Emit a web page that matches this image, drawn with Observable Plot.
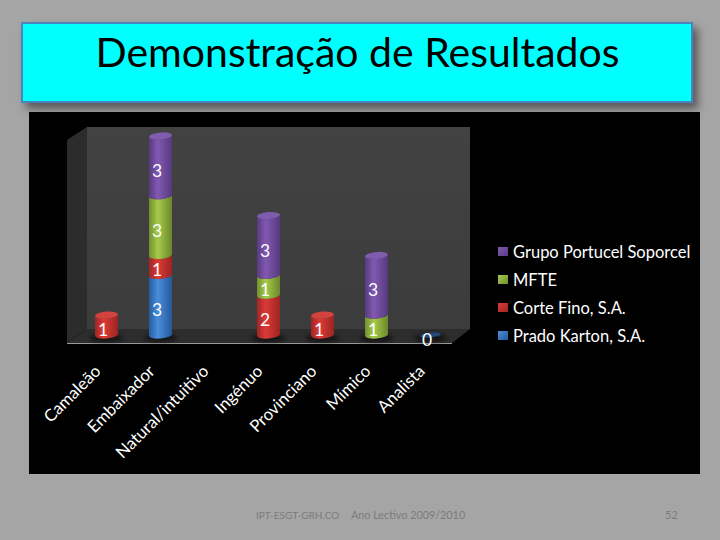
<!DOCTYPE html>
<html lang="pt">
<head>
<meta charset="utf-8">
<script src="https://cdn.jsdelivr.net/npm/d3@7"></script>
<script src="https://cdn.jsdelivr.net/npm/@observablehq/plot@0.6"></script>
<style>
  html, body { margin:0; padding:0; width:720px; height:540px; overflow:hidden; background:#a5a5a5; font-family:Lato, sans-serif; }
  .abs { position:absolute; }
  #titlebox { left:21px; top:22px; width:668px; height:77px; background:#00ffff; border:2px solid #4a83c0; box-shadow:5px 6px 8px #5a5a5a; }
  #title { left:0; width:715px; top:24px; text-align:center; font-size:41px; line-height:56px; color:#000; }
  #panel { left:29px; top:112px; width:671px; height:362px; background:#000; }
  #side { left:0; top:0; width:720px; height:540px; background:#2c2c2c; clip-path:polygon(67px 140px, 87px 127px, 87px 329px, 67px 343px); }
  #wall { left:87px; top:127px; width:383px; height:202px; background:linear-gradient(#424242,#3c3c3c); }
  #floor { left:0; top:0; width:720px; height:540px; background:#2d2d2d; clip-path:polygon(67px 343px, 87px 329px, 470px 329px, 452px 343px); }
  #edge { left:67px; top:343px; width:385px; height:1px; background:#9a9a9a; }
  #chart { left:0; top:0; }
  .leg { left:513px; color:#fff; font-size:16.5px; line-height:20px; white-space:nowrap; }
  .sw { left:498px; width:10px; height:9px; }
  .foot { color:#7c7c7c; top:507px; line-height:16px; white-space:pre; }
</style>
</head>
<body>
<div class="abs" id="titlebox"></div>
<div class="abs" id="title">Demonstração de Resultados</div>
<div class="abs" id="panel"></div>
<div class="abs" id="side"></div>
<div class="abs" id="wall"></div>
<div class="abs" id="floor"></div>
<div class="abs" id="edge"></div>
<div class="abs" id="chart"></div>
<div id="legend"></div>
<div class="abs foot" style="left:256px;font-size:10px">IPT-ESGT-GRH.CO</div>
<div class="abs foot" style="left:351px;font-size:10.8px">Ano Lectivo 2009/2010</div>
<div class="abs foot" style="left:665px;font-size:11px">52</div>
<script>
const categories = ["Camaleão","Embaixador","Natural/intuitivo","Ingénuo","Provinciano","Mímico","Analista"];
const seriesNames = ["Prado Karton, S.A.","Corte Fino, S.A.","MFTE","Grupo Portucel Soporcel"];
const pradoKarton = [null,3,null,null,null,null,0];
const corteFino   = [1,1,null,2,1,null,null];
const mfte        = [null,3,null,1,null,1,null];
const portucel    = [null,3,null,3,null,3,null];
const seriesValues = [pradoKarton, corteFino, mfte, portucel];

// dark edge, highlight, dark edge, cap
const shades = [
  ["#255c9e","#4a8ddb","#24599a","#3f7cc4"],
  ["#a02624","#dc3b36","#9c2422","#d2433d"],
  ["#728f2e","#a4cb4b","#6c872a","#a9c95a"],
  ["#573a80","#8259b2","#553a7e","#7f5cae"]
];

const rows = [];
seriesValues.forEach((vals, s) => vals.forEach((v, c) => {
  if (v !== null) rows.push({category: categories[c], series: seriesNames[s], value: v});
}));

const gradIds = seriesNames.map((_, i) => "url(#cyl" + i + ")");

function defsMark() {
  const defs = d3.create("svg:defs");
  shades.forEach((sh, i) => {
    const g = defs.append("linearGradient").attr("id", "cyl" + i);
    [[0, sh[0]], [0.38, sh[1]], [1, sh[2]]].forEach(([o, c]) =>
      g.append("stop").attr("offset", o).attr("stop-color", c));
  });
  const f = defs.append("filter").attr("id", "blur").attr("x", "-50%").attr("y", "-100%").attr("width", "200%").attr("height", "300%");
  f.append("feGaussianBlur").attr("stdDeviation", 2);
  return defs.node();
}

function cylinders(index, scales, values, dims, ctx, next) {
  const g = next(index, scales, values, dims, ctx);
  const ry = 3.5, rot = -5;
  const rects = Array.from(g.querySelectorAll("rect"));
  const geo = rects.map(r => ({
    r, x:+r.getAttribute("x"), y:+r.getAttribute("y"),
    w:+r.getAttribute("width"), h:+r.getAttribute("height"), fill:r.getAttribute("fill")
  }));
  const parent = rects.length ? rects[0].parentNode : g;
  const tops = d3.rollup(geo, v => d3.min(v, d => d.y), d => d.x);
  const base = d3.max(geo, d => d.y + d.h);
  const NS = "http://www.w3.org/2000/svg";
  tops.forEach((_, x) => {
    const w = geo.find(d => d.x === x).w;
    const e = document.createElementNS(NS, "ellipse");
    e.setAttribute("cx", x + w / 2); e.setAttribute("cy", base + 3);
    e.setAttribute("rx", w * 0.72); e.setAttribute("ry", 4);
    e.setAttribute("fill", "#000"); e.setAttribute("opacity", 0.55);
    e.setAttribute("filter", "url(#blur)");
    parent.insertBefore(e, parent.firstChild);
  });
  geo.forEach(d => {
    const t = d.w / 2 * Math.tan(5 * Math.PI / 180);
    const rx = d.w / 2;
    const p = document.createElementNS(NS, "path");
    p.setAttribute("d",
      `M${d.x},${d.y + t}A${rx},${ry} ${rot} 0 0 ${d.x + d.w},${d.y - t}` +
      `L${d.x + d.w},${d.y + d.h - t}A${rx},${ry} ${rot} 0 1 ${d.x},${d.y + d.h + t}Z`);
    p.setAttribute("fill", d.fill);
    parent.insertBefore(p, d.r);
    parent.removeChild(d.r);
    if (d.y === tops.get(d.x)) {
      const s = shades[gradIds.indexOf(d.fill)];
      const c = document.createElementNS(NS, "ellipse");
      c.setAttribute("cx", d.x + rx); c.setAttribute("cy", d.y);
      c.setAttribute("rx", d.h === 0 ? rx * 0.9 : rx); c.setAttribute("ry", d.h === 0 ? 2.5 : ry);
      c.setAttribute("transform", `rotate(${rot} ${d.x + rx} ${d.y})`);
      c.setAttribute("fill", d.h === 0 ? "#1f4a7a" : s[3]);
      parent.appendChild(c);
    }
  });
  return g;
}

const chart = Plot.plot({
  width: 720, height: 540,
  marginLeft: 76.5, marginRight: 259.5, marginTop: 136, marginBottom: 205,
  style: {background: "transparent", overflow: "visible"},
  x: {domain: categories, paddingInner: 0.58, paddingOuter: 0.29, label: null},
  y: {domain: [0, 10], axis: null, label: null},
  color: {domain: seriesNames, range: gradIds},
  marks: [
    defsMark,
    Plot.axisX({
      anchor: "bottom", tickSize: 0, tickPadding: 26, tickRotate: -45, label: null,
      color: "#fff", fill: "#fff", fontSize: 16.8, fontFamily: "Lato, sans-serif",
      dx: -9, dy: 7
    }),
    Plot.barY(rows, {x: "category", y: "value", z: "series", fill: "series", render: cylinders}),
    Plot.text(rows, Plot.stackY({
      x: "category", y: "value", z: "series", text: d => String(d.value),
      fill: "#fff", fontSize: 17.5, fontFamily: "Lato, sans-serif", dx: -4, dy: 5
    }))
  ]
});
document.getElementById("chart").appendChild(chart);

const legend = document.getElementById("legend");
const legendTops = [242, 270, 298, 326];
seriesNames.slice().reverse().forEach((name, i) => {
  const sh = shades[3 - i];
  const t = document.createElement("div");
  t.className = "abs leg"; t.style.top = legendTops[i] + "px"; t.textContent = name;
  legend.appendChild(t);
  const s = document.createElement("div");
  s.className = "abs sw"; s.style.top = (legendTops[i] + 5) + "px";
  s.style.background = `linear-gradient(135deg, ${sh[1]}, ${sh[0]})`;
  legend.appendChild(s);
});
</script>
</body>
</html>
